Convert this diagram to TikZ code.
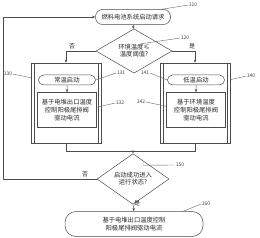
\documentclass[tikz,border=0pt]{standalone}
\usepackage{fontspec}
\setmainfont{Noto Sans CJK SC}
\usepackage{tikz}
\usetikzlibrary{shapes.geometric, shapes.misc, arrows.meta, positioning, calc}

\begin{document}
\begin{tikzpicture}[
    x=1pt, y=-1pt,
    every node/.style={font=\fontsize{6.3}{8}\selectfont, text=black!85},
    line/.style={draw=black!70, line width=0.5pt},
    term/.style={line, rectangle, rounded corners=7pt, align=center, inner sep=1pt},
    pill/.style={line, rounded rectangle, align=center, inner sep=1pt},
    proc/.style={line, rectangle, align=center, inner sep=1pt},
    dec/.style={line, diamond, align=center, inner sep=0pt},
    group/.style={line, rectangle, minimum width=70pt, minimum height=80pt},
    tag/.style={font=\fontsize{5}{6}\selectfont, text=black!75, inner sep=0.5pt},
    lead/.style={draw=black!60, line width=0.4pt},
    yn/.style={font=\fontsize{6}{7}\selectfont, inner sep=0.5pt},
    arrow/.style={line, -{Stealth[length=3.2pt, width=2.6pt]}}
]
    \useasboundingbox (0,0) rectangle (260,238);

    % start request and first decision
    \node[term, minimum width=75pt, minimum height=15pt] (n110) at (133,17) {燃料电池系统启动请求};
    \node[dec, minimum width=76pt, minimum height=23pt] (n120) at (134,51) {环境温度≤\\[-1pt]温度阈值?};

    % two start branches
    \node[group] (n130) at (66,103) {};
    \node[group] (n140) at (195,103) {};
    \draw[line] ($(n130.north west)+(3,0)$) -- ($(n130.south west)+(3,0)$);
    \draw[line] ($(n130.north east)+(-3,0)$) -- ($(n130.south east)+(-3,0)$);
    \draw[line] ($(n140.north west)+(3,0)$) -- ($(n140.south west)+(3,0)$);
    \draw[line] ($(n140.north east)+(-3,0)$) -- ($(n140.south east)+(-3,0)$);

    \node[pill, minimum width=59pt, minimum height=10pt] (n131) at (67,80) {常温启动};
    \node[proc, minimum width=59pt, minimum height=35pt] (n132) at (67,110) {基于电堆出口温度\\控制阳极尾排阀\\驱动电流};
    \node[pill, minimum width=59pt, minimum height=10pt] (n141) at (196,80) {低温启动};
    \node[proc, minimum width=59pt, minimum height=35pt] (n142) at (196,110) {基于环境温度\\控制阳极尾排阀\\驱动电流};

    % second decision and final step
    \node[dec, minimum width=72pt, minimum height=28pt] (n150) at (133,179) {启动成功进入\\[-1pt]运行状态?};
    \node[term, rounded corners=11pt, minimum width=138pt, minimum height=25pt] (n160) at (134,224) {基于电堆出口温度控制\\阳极尾排阀驱动电流};

    \coordinate (join) at (133,151);
    \coordinate (back) at (3,179);

    % connectors
    \draw[arrow] (n110) -- (n120);
    \draw[arrow] (n120.west) -| (n130.north);
    \draw[arrow] (n120.east) -| (n140.north);
    \draw[arrow] (n131) -- (n132);
    \draw[arrow] (n141) -- (n142);
    \draw[line] (n130.south) |- (join);
    \draw[line] (n140.south) |- (join);
    \draw[arrow] (join) -- (n150.north);
    \draw[arrow] (n150.west) -- (back) |- (n110.west);
    \draw[arrow] (n150.south) -- (n160.north);

    \node[yn] (no1) at (72,46) {否};
    \node[yn] (yes1) at (192,46) {是};
    \node[yn] (no2) at (85,174) {否};
    \node[yn] (yes2) at (137,203) {是};

    % reference numbers
    \node[tag] (t110) at (193,5) {110};
    \node[tag] (t120) at (185,38) {120};
    \node[tag] (t130) at (8,74) {130};
    \node[tag] (t131) at (121,73) {131};
    \node[tag] (t132) at (120,103) {132};
    \node[tag] (t140) at (251,76) {140};
    \node[tag] (t141) at (145,73) {141};
    \node[tag] (t142) at (141,102) {142};
    \node[tag] (t150) at (180,165) {150};
    \node[tag] (t160) at (206,204) {160};

    \draw[lead] (n110.15) -- (t110.west);
    \draw[lead] (n120.north east) ++(-12,4) -- (t120.west);
    \draw[lead] (t130.east) -- ($(n130.north west)+(0,15)$);
    \draw[lead] (n131.east) -- (t131.west);
    \draw[lead] ($(n132.north east)+(0,15)$) -- (t132.west);
    \draw[lead] ($(n140.north east)+(0,17)$) -- (t140.west);
    \draw[lead] (t141.east) -- (n141.west);
    \draw[lead] (t142.east) -- ($(n142.north west)+(0,14)$);
    \draw[lead] ($(n150.north east)+(-8,-1)$) -- (t150.west);
    \draw[lead] ($(n160.north east)+(-20,0)$) -- (t160.west);
\end{tikzpicture}
\end{document}
